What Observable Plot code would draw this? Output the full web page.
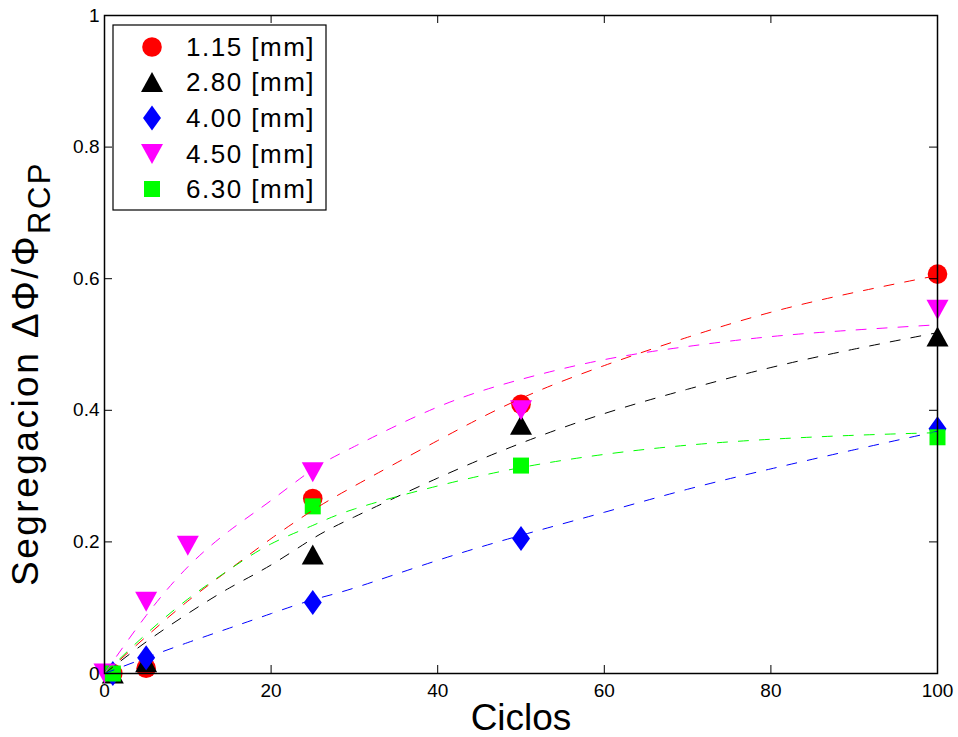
<!DOCTYPE html>
<html><head><meta charset="utf-8">
<script src="https://cdn.jsdelivr.net/npm/d3@7"></script>
<script src="https://cdn.jsdelivr.net/npm/@observablehq/plot@0.6"></script>
<style>body{margin:0;background:#fff} #chart{width:958px;height:737px}</style>
</head><body><div id="chart"></div>
<script>
// ---- data ----
const seriesNames = ["1.15 [mm]", "2.80 [mm]", "4.00 [mm]", "4.50 [mm]", "6.30 [mm]"];
const seriesColors = ["#ff0000", "#000000", "#0000ff", "#ff00ff", "#00ff00"];
const ciclos115 = [1, 5, 25, 50, 100];
const seg115 = [0, 0.008, 0.266, 0.409, 0.607];
const ciclos280 = [1, 5, 25, 50, 100];
const seg280 = [0, 0.017, 0.181, 0.378, 0.512];
const ciclos400 = [1, 5, 25, 50, 100];
const seg400 = [0, 0.024, 0.108, 0.205, 0.372];
const ciclos450 = [0, 5, 10, 25, 50, 100];
const seg450 = [0, 0.109, 0.194, 0.306, 0.400, 0.553];
const ciclos630 = [1, 25, 50, 100];
const seg630 = [0, 0.254, 0.316, 0.359];
// fitted curves
const fitCiclos = [0, 5, 10, 15, 20, 25, 30, 40, 50, 60, 70, 80, 90, 100];
const fit115 = [0, 0.056, 0.11, 0.158, 0.205, 0.248, 0.285, 0.354, 0.418, 0.468, 0.511, 0.549, 0.579, 0.605];
const fit280 = [0, 0.048, 0.091, 0.13, 0.165, 0.205, 0.238, 0.297, 0.35, 0.395, 0.432, 0.465, 0.493, 0.518];
const fit400 = [0, 0.024, 0.047, 0.069, 0.091, 0.112, 0.13, 0.172, 0.21, 0.245, 0.28, 0.311, 0.34, 0.368];
const fit450 = [0, 0.088, 0.162, 0.217, 0.263, 0.31, 0.345, 0.405, 0.447, 0.477, 0.497, 0.512, 0.522, 0.53];
const fit630 = [0, 0.06, 0.113, 0.158, 0.197, 0.225, 0.25, 0.285, 0.313, 0.333, 0.347, 0.356, 0.362, 0.366];
const xTicks = [0, 20, 40, 60, 80, 100];
const yTicks = [0, 0.2, 0.4, 0.6, 0.8, 1];

// ---- symbols (MATLAB-like markers) ----
const kf = s => Math.sqrt(s / Math.PI) / 10;
const poly = (c, pts, k) => { pts.forEach(([x, y], i) => i ? c.lineTo(x * k, y * k) : c.moveTo(x * k, y * k)); c.closePath(); };
const symCircle = {draw(c, s) { const r = 9.8 * kf(s); c.moveTo(r, 0); c.arc(0, 0, r, 0, 2 * Math.PI); c.closePath(); }};
const symTriUp = {draw(c, s) { poly(c, [[0, -10], [11, 10], [-11, 10]], kf(s)); }};
const symDiamond = {draw(c, s) { poly(c, [[0, -12.5], [9, 0], [0, 12.5], [-9, 0]], kf(s)); }};
const symTriDown = {draw(c, s) { poly(c, [[0, 10], [11, -10], [-11, -10]], kf(s)); }};
const symSquare = {draw(c, s) { poly(c, [[-8, -8], [8, -8], [8, 8], [-8, 8]], kf(s)); }};
const symbols = [symCircle, symTriUp, symDiamond, symTriDown, symSquare];

const pointSets = [[ciclos115, seg115], [ciclos280, seg280], [ciclos400, seg400], [ciclos450, seg450], [ciclos630, seg630]];
const fitSets = [fit115, fit280, fit400, fit450, fit630];

const W = 958, H = 737, mL = 104, mR = 21, mT = 15, mB = 64;
const innerW = W - mL - mR, innerH = H - mT - mB;

const marks = [];
pointSets.forEach(([xs, ys], i) => {
  const data = xs.map((x, j) => ({x, y: ys[j]}));
  marks.push(Plot.dot(data, {x: "x", y: "y", r: 10, symbol: symbols[i], fill: seriesColors[i], stroke: "none"}));
});
fitSets.forEach((ys, i) => {
  const data = fitCiclos.map((x, j) => ({x, y: ys[j]}));
  marks.push(Plot.line(data, {x: "x", y: "y", stroke: seriesColors[i], strokeWidth: 1, strokeDasharray: "10,11", curve: "natural"}));
});
marks.push(Plot.frame({stroke: "black", strokeWidth: 1.5}));
marks.push(Plot.tickX(xTicks, {x: d => d, insetTop: innerH - 8, stroke: "black"}));
marks.push(Plot.tickX(xTicks, {x: d => d, insetBottom: innerH - 8, stroke: "black"}));
marks.push(Plot.tickY(yTicks, {y: d => d, insetRight: innerW - 8, stroke: "black"}));
marks.push(Plot.tickY(yTicks, {y: d => d, insetLeft: innerW - 8, stroke: "black"}));
marks.push(Plot.axisX(xTicks, {tickSize: 0, tickPadding: 10, label: null, fontSize: 19}));
marks.push(Plot.axisY(yTicks, {tickSize: 0, tickPadding: 5, label: null, fontSize: 19, tickFormat: d3.format("")}));

const svg = Plot.plot({
  width: W, height: H, marginLeft: mL, marginRight: mR, marginTop: mT, marginBottom: mB,
  x: {domain: [0, 100]}, y: {domain: [0, 1]},
  style: {fontFamily: "'Liberation Sans', Arial, Helvetica, sans-serif", color: "black", background: "white"},
  marks
});

const s = d3.select(svg);
const ff = "'Liberation Sans', Arial, Helvetica, sans-serif";
// axis labels
s.append("text").attr("x", 521).attr("y", 730).attr("text-anchor", "middle")
  .attr("font-family", ff).attr("font-size", 37).attr("fill", "black").text("Ciclos");
const yl = s.append("text").attr("transform", "translate(38,586) rotate(-90)").attr("text-anchor", "start")
  .attr("font-family", ff).attr("font-size", 37).attr("letter-spacing", 2.5).attr("fill", "black");
yl.append("tspan").text("Segregacion \u0394\u03A6/\u03A6");
yl.append("tspan").attr("font-size", 31).attr("dy", 12).text("RCP");

// legend
const lg = s.append("g");
lg.append("rect").attr("x", 113).attr("y", 25).attr("width", 213).attr("height", 185)
  .attr("fill", "white").attr("stroke", "black").attr("stroke-width", 1.2);
const rowY = [47, 82, 118, 154, 189];
seriesNames.forEach((name, i) => {
  const p = d3.path(); symbols[i].draw(p, Math.PI * 100);
  lg.append("path").attr("d", p.toString()).attr("transform", `translate(152,${rowY[i]})`).attr("fill", seriesColors[i]);
  lg.append("text").attr("x", 186).attr("y", rowY[i]).attr("dy", "0.36em").attr("text-anchor", "start")
    .attr("font-family", ff).attr("font-size", 26).attr("letter-spacing", 1.5).attr("fill", "black").text(name);
});

document.getElementById("chart").appendChild(svg);
</script></body></html>
